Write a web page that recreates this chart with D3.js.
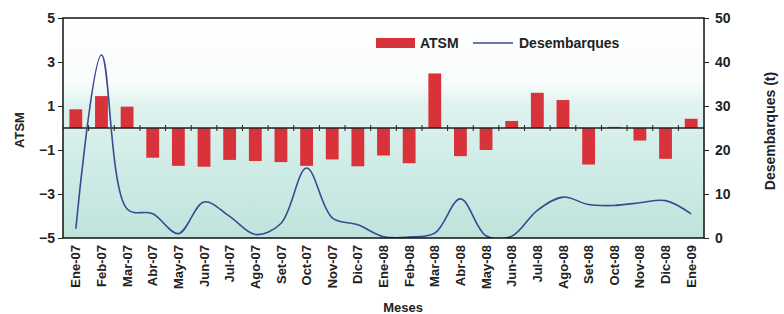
<!DOCTYPE html>
<html><head><meta charset="utf-8">
<script src="https://cdn.jsdelivr.net/npm/d3@7"></script>
<style>
body{margin:0;background:#fff;}
text{font-family:"Liberation Sans",Arial,sans-serif;}
</style></head>
<body><svg id="c" width="784" height="314"></svg>
<script>
const months = ["Ene-07","Feb-07","Mar-07","Abr-07","May-07","Jun-07","Jul-07","Ago-07","Set-07","Oct-07","Nov-07","Dic-07",
"Ene-08","Feb-08","Mar-08","Abr-08","May-08","Jun-08","Jul-08","Ago-08","Set-08","Oct-08","Nov-08","Dic-08","Ene-09"];
const atsm = [0.85,1.45,0.97,-1.35,-1.72,-1.76,-1.45,-1.5,-1.55,-1.72,-1.43,-1.74,
-1.25,-1.6,2.48,-1.28,-1.0,0.32,1.6,1.27,-1.66,0.05,-0.57,-1.4,0.42];
const desemb = [2.1,41.6,6.6,5.5,1.0,8.2,4.9,0.8,3.3,15.9,4.6,3.0,
0.3,0.2,1.1,8.9,0.5,0.4,6.3,9.3,7.6,7.4,8.0,8.5,5.5];
const leftTicks = [-5,-3,-1,1,3,5];
const rightTicks = [0,10,20,30,40,50];

const svg = d3.select("#c");
const L=63,R=704,T=18,B=238;
const x = d3.scaleBand().domain(months).range([L,R]).paddingInner(0.5).paddingOuter(0.25);
const yL = d3.scaleLinear().domain([-5,5]).range([B,T]);
const yR = d3.scaleLinear().domain([0,50]).range([B,T]);

const defs = svg.append("defs");
const g = defs.append("linearGradient").attr("id","bg").attr("x1",0).attr("y1",0).attr("x2",0).attr("y2",1);
[[0,"#ffffff"],[0.3,"#f8fcfb"],[0.4,"#def2ee"],[1,"#bfe4dc"]].forEach(s=>g.append("stop").attr("offset",s[0]).attr("stop-color",s[1]));
defs.append("clipPath").attr("id","clip").append("rect").attr("x",L).attr("y",T).attr("width",R-L).attr("height",B-T);

svg.append("rect").attr("x",L).attr("y",T).attr("width",R-L).attr("height",B-T).attr("fill","url(#bg)");

// bars
svg.append("g").selectAll("rect").data(atsm).join("rect")
  .attr("x",(d,i)=>x(months[i])).attr("width",x.bandwidth())
  .attr("y",d=>yL(Math.max(0,d))).attr("height",d=>Math.abs(yL(d)-yL(0)))
  .attr("fill","#d8323a");

// zero line with boundary ticks
const y0 = yL(0);
svg.append("line").attr("x1",L).attr("x2",R).attr("y1",y0).attr("y2",y0).attr("stroke","#222").attr("stroke-width",1.5);
const gap = (x.step()-x.bandwidth())/2;
const bounds = months.map(m=>x(m)-gap).slice(1);
svg.append("g").selectAll("line").data(bounds).join("line")
  .attr("x1",d=>d).attr("x2",d=>d).attr("y1",y0-3).attr("y2",y0+3).attr("stroke","#222").attr("stroke-width",1);

// line
const line = d3.line().x((d,i)=>x(months[i])+x.bandwidth()/2).y(d=>yR(d)).curve(d3.curveCatmullRom.alpha(0.5));
svg.append("path").datum(desemb).attr("d",line).attr("fill","none").attr("stroke","#3b4a8e").attr("stroke-width",1.6).attr("clip-path","url(#clip)");

// frame
svg.append("rect").attr("x",L).attr("y",T).attr("width",R-L).attr("height",B-T).attr("fill","none").attr("stroke","#111").attr("stroke-width",1.5);

// left axis
const ax = svg.append("g").attr("transform",`translate(${L},0)`).call(d3.axisLeft(yL).tickValues(leftTicks).tickSize(5).tickFormat(d3.format("d")));
ax.select(".domain").remove();
ax.selectAll("text").attr("font-size",14).attr("font-weight","bold").attr("fill","#222").attr("font-family","Liberation Sans, Arial, sans-serif");
ax.selectAll("line").attr("stroke","#222");

// right axis
const ar = svg.append("g").attr("transform",`translate(${R},0)`).call(d3.axisRight(yR).tickValues(rightTicks).tickSize(5));
ar.select(".domain").remove();
ar.selectAll("text").attr("font-size",14).attr("font-weight","bold").attr("fill","#222").attr("x",11).attr("font-family","Liberation Sans, Arial, sans-serif");
ar.selectAll("line").attr("stroke","#222");

// bottom axis labels
const ab = svg.append("g").attr("transform",`translate(0,${B})`).call(d3.axisBottom(x).tickSize(0));
ab.select(".domain").remove();
ab.selectAll("text").attr("transform","rotate(-90)").attr("x",-7).attr("y",0).attr("dy","0.35em")
  .style("text-anchor","end").attr("font-size",13).attr("font-weight","bold").attr("fill","#222").attr("font-family","Liberation Sans, Arial, sans-serif");

// titles
svg.append("text").attr("transform","translate(24,130) rotate(-90)").attr("text-anchor","middle").attr("font-size",13).attr("font-weight","bold").attr("fill","#222").text("ATSM");
svg.append("text").attr("transform","translate(775,131) rotate(-90)").attr("text-anchor","middle").attr("font-size",14).attr("font-weight","bold").attr("fill","#222").text("Desembarques (t)");
svg.append("text").attr("x",403).attr("y",312).attr("text-anchor","middle").attr("font-size",13).attr("font-weight","bold").attr("fill","#222").text("Meses");

// legend
const lg = svg.append("g");
lg.append("rect").attr("x",376).attr("y",38).attr("width",39).attr("height",10).attr("fill","#d8323a");
lg.append("text").attr("x",420).attr("y",48).attr("font-size",14).attr("font-weight","bold").attr("fill","#222").text("ATSM");
lg.append("line").attr("x1",473).attr("x2",513).attr("y1",43).attr("y2",43).attr("stroke","#3b4a8e").attr("stroke-width",1.6);
lg.append("text").attr("x",519).attr("y",48).attr("font-size",14).attr("font-weight","bold").attr("fill","#222").text("Desembarques");
</script></body></html>
